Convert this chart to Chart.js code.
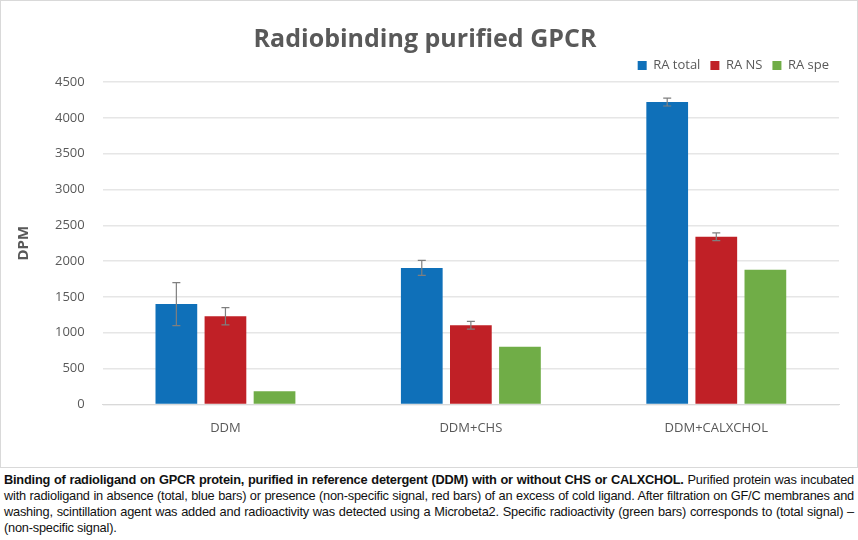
<!DOCTYPE html>
<html>
<head>
<meta charset="utf-8">
<script src="https://cdn.jsdelivr.net/npm/chart.js@4"></script>
<style>
  body { margin: 0; background: #fff; width: 858px; height: 540px; overflow: hidden; }
  #box { position: absolute; left: 0; top: 0; width: 856px; height: 466px; border: 1px solid #d9d9d9; }
  #caption { position: absolute; left: 4px; top: 472px; width: 850px; font-family: "Liberation Sans", Arial, sans-serif;
    font-size: 12.8px; line-height: 16px; text-align: justify; color: #111; letter-spacing: -0.22px; }
</style>
</head>
<body>
<div id="box"><canvas id="chart" width="856" height="466"></canvas></div>
<div id="caption"><b>Binding of radioligand on GPCR protein, purified in reference detergent (DDM) with or without CHS or CALXCHOL.</b> Purified protein was incubated with radioligand in absence (total, blue bars) or presence (non-specific signal, red bars) of an excess of cold ligand. After filtration on GF/C membranes and washing, scintillation agent was added and radioactivity was detected using a Microbeta2. Specific radioactivity (green bars) corresponds to (total signal) – (non-specific signal).</div>
<script>
const categories = ["DDM", "DDM+CHS", "DDM+CALXCHOL"];
const raTotal = [1400, 1905, 4220];
const raTotalErr = [300, 105, 55];
const raNS = [1230, 1105, 2340];
const raNSErr = [120, 55, 55];
const raSpe = [182, 806, 1880];
const raSpeErr = [0, 0, 0];

const errorBars = {
    id: "errorBars",
    afterDatasetsDraw(chart) {
        const ctx = chart.ctx;
        const y = chart.scales.y;
        ctx.save();
        ctx.strokeStyle = "#7f7f7f";
        ctx.lineWidth = 1.2;
        chart.data.datasets.forEach((ds, i) => {
            const meta = chart.getDatasetMeta(i);
            meta.data.forEach((bar, j) => {
                const e = ds.errors[j];
                if (!e) return;
                const top = y.getPixelForValue(ds.data[j] + e);
                const bot = y.getPixelForValue(ds.data[j] - e);
                ctx.beginPath();
                ctx.moveTo(bar.x, top); ctx.lineTo(bar.x, bot);
                ctx.moveTo(bar.x - 4, top); ctx.lineTo(bar.x + 4, top);
                ctx.moveTo(bar.x - 4, bot); ctx.lineTo(bar.x + 4, bot);
                ctx.stroke();
            });
        });
        ctx.restore();
    }
};

new Chart(document.getElementById("chart"), {
    type: "bar",
    data: {
        labels: categories,
        datasets: [
            { label: "RA total", data: raTotal, errors: raTotalErr, backgroundColor: "#0f70b9" },
            { label: "RA NS", data: raNS, errors: raNSErr, backgroundColor: "#c02026" },
            { label: "RA spe", data: raSpe, errors: raSpeErr, backgroundColor: "#70ad47" }
        ]
    },
    options: {
        responsive: false,
        animation: false,
        layout: { padding: { left: 10, right: 18, top: 16, bottom: 23 } },
        datasets: { bar: { categoryPercentage: 0.6, barPercentage: 0.85 } },
        plugins: {
            title: { display: true, text: "Radiobinding purified GPCR", color: "#595959",
                font: { family: "Open Sans", size: 25, weight: "bold" }, padding: { top: 8, bottom: -6 } },
            legend: { position: "top", align: "end",
                labels: { boxWidth: 9, boxHeight: 9, color: "#595959", font: { family: "Open Sans", size: 13 } } },
            tooltip: { enabled: false }
        },
        scales: {
            x: { grid: { display: false }, border: { color: "#d9d9d9" },
                ticks: { color: "#595959", font: { family: "Open Sans", size: 13 }, padding: 8 } },
            y: { min: 0, max: 4500,
                ticks: { stepSize: 500, color: "#595959", font: { family: "Open Sans", size: 13 }, padding: 18,
                    callback: v => String(v) },
                grid: { color: "#e6e6e6", lineWidth: 1.5, drawTicks: false }, border: { display: false },
                title: { display: true, text: "DPM", color: "#595959", font: { family: "Open Sans", size: 15, weight: "bold" } } }
        }
    },
    plugins: [errorBars]
});
</script>
</body>
</html>
